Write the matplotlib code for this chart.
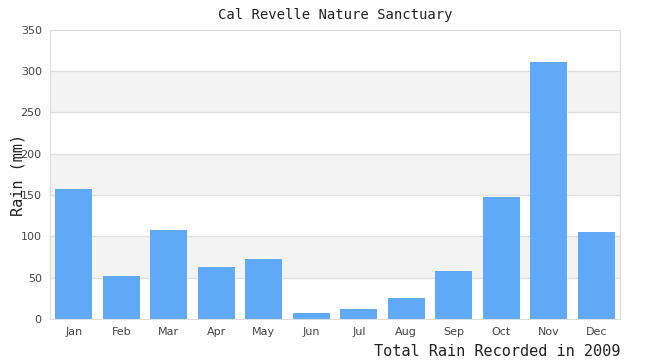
import numpy as np
import matplotlib.pyplot as plt

months = ['Jan', 'Feb', 'Mar', 'Apr', 'May', 'Jun',
          'Jul', 'Aug', 'Sep', 'Oct', 'Nov', 'Dec']
rain_mm = [157, 52, 108, 63, 73, 7, 12, 25, 58, 148, 311, 105]
yticks = [0, 50, 100, 150, 200, 250, 300, 350]

fig = plt.figure(figsize=(6.5, 3.6), dpi=100)
ax = fig.add_axes([0.077, 0.114, 0.877, 0.803])

# alternating bands
for lo in [50, 150, 250]:
    ax.axhspan(lo, lo + 50, color='#f3f3f3', zorder=0, lw=0)
for y in yticks[1:-1]:
    ax.axhline(y, color='#e0e0e0', lw=1, zorder=1)

x = np.arange(len(months))
ax.bar(x, rain_mm, width=0.78, color='#60a9f6', zorder=2)

ax.set_xlim(-0.5, len(months) - 0.5)
ax.set_ylim(0, 350)
ax.set_xticks(x)
ax.set_xticklabels(months)
ax.set_yticks(yticks)
ax.tick_params(length=0, labelsize=8, colors='#444444', pad=6)
for s in ax.spines.values():
    s.set_color('#dddddd')

ax.set_title('Cal Revelle Nature Sanctuary', family='DejaVu Sans Mono',
             fontsize=10, color='#222222', pad=8)
# y label sits over the tick labels like in the original
fig.text(0.028, 0.515, 'Rain (mm)', family='DejaVu Sans Mono', fontsize=11,
         color='#222222', rotation=90, ha='center', va='center')
fig.text(0.954, 0.003, 'Total Rain Recorded in 2009', family='DejaVu Sans Mono',
         fontsize=11, color='#222222', ha='right', va='bottom')

fig.savefig('out.png')
